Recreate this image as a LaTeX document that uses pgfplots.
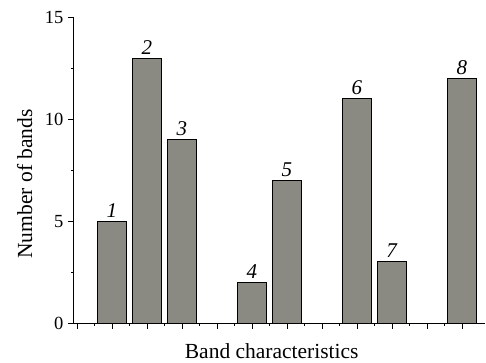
\documentclass[border=0pt]{standalone}
\usepackage{fontspec}
\setmainfont{Liberation Serif}
\usepackage{pgfplots}
\pgfplotsset{compat=1.18}
\definecolor{barfill}{RGB}{138,138,130}
\begin{document}
\begin{tikzpicture}
\useasboundingbox (-73.3pt,-39pt) rectangle (412.7pt,323pt);
\begin{axis}[
  scale only axis,
  width=411.7pt, height=305.7pt,
  at={(0,0)}, anchor=south west,
  axis x line*=bottom, axis y line*=left,
  axis line style={-, black, line width=0.7pt},
  xmin=-0.1, xmax=11.66,
  ymin=0, ymax=15,
  xtick={0,...,11}, xticklabels={},
  minor x tick num=1,
  ytick={0,5,10,15},
  minor y tick num=1,
  tick align=outside,
  tick pos=left,
  major tick length=5.5pt, minor tick length=2.5pt,
  every tick/.style={black, line width=0.6pt},
  /pgf/number format/assume math mode=true,
  ticklabel style={font=\fontsize{18.5}{20}\selectfont},
  yticklabel style={xshift=-1pt},
  ylabel={Number of bands},
  xlabel={Band characteristics},
  label style={font=\fontsize{21.5}{24}\selectfont},
  ylabel style={at={(axis description cs:-0.1003,0.455)}, anchor=base},
  xlabel style={at={(axis description cs:0.482,0)}, anchor=base, yshift=-35pt},
  ybar, bar width=0.83,
  point meta=explicit symbolic,
  nodes near coords={\textit{\pgfplotspointmeta}},
  every node near coord/.append style={font=\fontsize{21}{24}\selectfont, inner sep=2pt, yshift=1.5pt},
]
\addplot[fill=barfill, draw=black, line width=0.8pt] coordinates {
  (1,5) [1]
  (2,13) [2]
  (3,9) [3]
  (5,2) [4]
  (6,7) [5]
  (8,11) [6]
  (9,3) [7]
  (11,12) [8]
};
\end{axis}
\end{tikzpicture}
\end{document}
